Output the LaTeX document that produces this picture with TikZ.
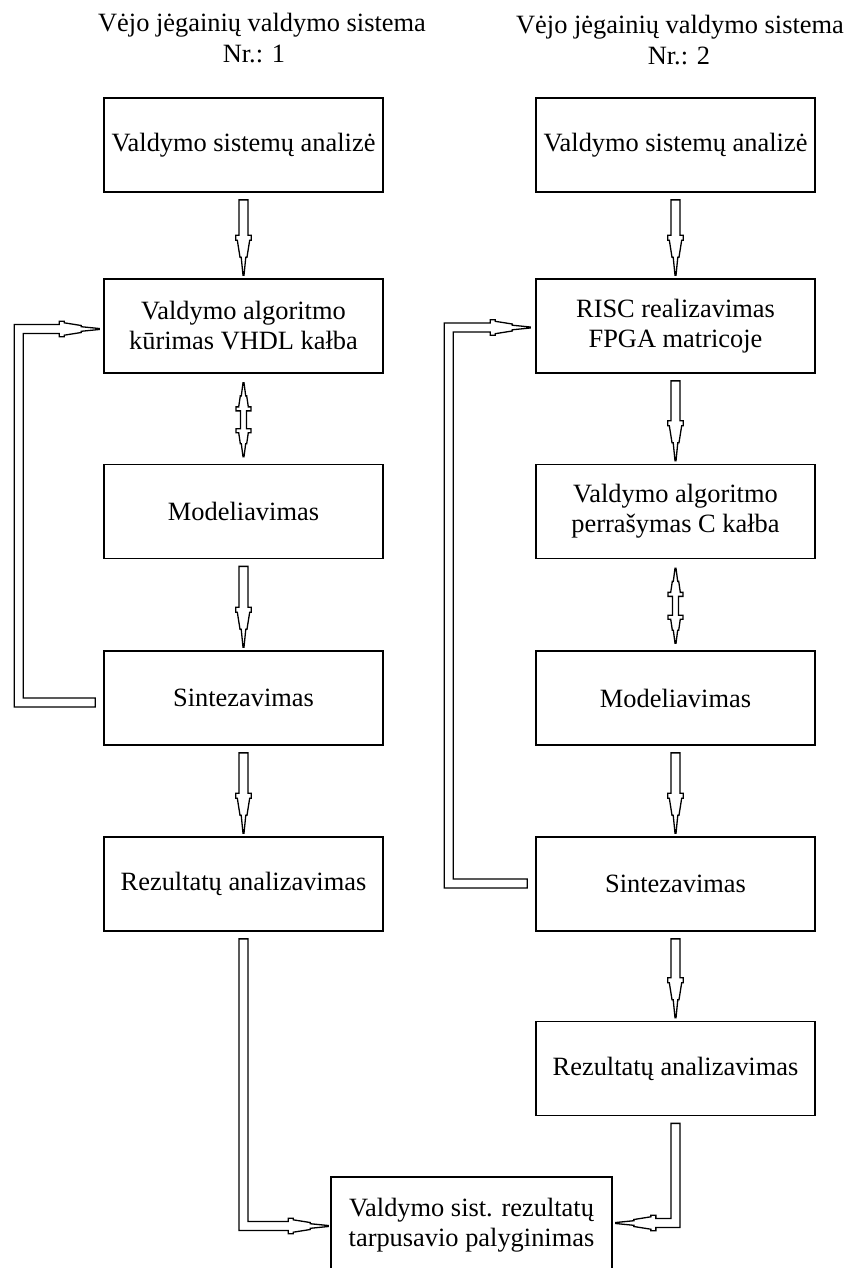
\documentclass[tikz,border=0pt]{standalone}
\usepackage{fontspec}
\setmainfont{Liberation Serif}
\usetikzlibrary{calc}

\tikzset{
  stage/.style={draw, line width=0.85pt, minimum width=139.5pt, minimum height=47pt,
    inner sep=0pt, align=center, font=\fontsize{13.2}{15}\selectfont},
  openstage/.style={stage, draw=none},
  frame/.style={draw, line width=0.85pt},
  heading/.style={anchor=base, inner sep=0pt, font=\fontsize{13.2}{15}\selectfont},
  blockarrow/.style={draw, line width=0.65pt, fill=white, line join=miter},
}

% arrow heads of the hollow block arrows, given by the tip coordinate
\newcommand\headD[1]{-- ($(#1)+(-7.8,-40)$) -- ($(#1)+(-7.8,-35)$) -- ($(#1)+(-6.2,-35)$)
  -- ($(#1)+(-3.5,-18)$) -- ($(#1)+(-2.3,-18)$) -- ($(#1)+(-0.5,0)$) -- ($(#1)+(0.5,0)$)
  -- ($(#1)+(2.3,-18)$) -- ($(#1)+(3.5,-18)$) -- ($(#1)+(6.2,-35)$) -- ($(#1)+(7.8,-35)$)
  -- ($(#1)+(7.8,-40)$) -- ($(#1)+(4.5,-40)$)}
\newcommand\headR[1]{-- ($(#1)+(-40,-4.5)$) -- ($(#1)+(-40,-7.8)$) -- ($(#1)+(-35,-7.8)$)
  -- ($(#1)+(-35,-6.2)$) -- ($(#1)+(-18,-3.5)$) -- ($(#1)+(-18,-2.3)$) -- ($(#1)+(0,-0.5)$)
  -- ($(#1)+(0,0.5)$) -- ($(#1)+(-18,2.3)$) -- ($(#1)+(-18,3.5)$) -- ($(#1)+(-35,6.2)$)
  -- ($(#1)+(-35,7.8)$) -- ($(#1)+(-40,7.8)$) -- ($(#1)+(-40,4.5)$)}
\newcommand\headL[1]{-- ($(#1)+(40,-4.5)$) -- ($(#1)+(40,-7.8)$) -- ($(#1)+(35,-7.8)$)
  -- ($(#1)+(35,-6.2)$) -- ($(#1)+(18,-3.5)$) -- ($(#1)+(18,-2.3)$) -- ($(#1)+(0,-0.5)$)
  -- ($(#1)+(0,0.5)$) -- ($(#1)+(18,2.3)$) -- ($(#1)+(18,3.5)$) -- ($(#1)+(35,6.2)$)
  -- ($(#1)+(35,7.8)$) -- ($(#1)+(40,7.8)$) -- ($(#1)+(40,4.5)$)}

% straight downward block arrow between two stacked boxes
\newcommand\varrow[2]{%
  \coordinate (vtop) at ($(#1.south)+(0,7)$);
  \coordinate (vtip) at ($(#2.north)+(0,-3)$);
  \draw[blockarrow] ($(vtop)+(-4.5,0)$) -- ($(vtip)+(-4.5,-40)$) \headD{vtip}
    -- ($(vtop)+(4.5,0)$) -- cycle;}

% two-headed block arrow between two stacked boxes
\newcommand\dblarrow[2]{%
  \coordinate (da) at ($(#1.south)+(0,9)$);
  \coordinate (db) at ($(#2.north)+(0,-7)$);
  \draw[blockarrow] ($(da)+(-0.5,0)$) -- ($(da)+(-2.2,13)$) -- ($(da)+(-3.2,13)$)
    -- ($(da)+(-4.8,24)$) -- ($(da)+(-7.5,24)$) -- ($(da)+(-7.5,28)$) -- ($(da)+(-3,28)$)
    -- ($(db)+(-3,-28)$) -- ($(db)+(-7.5,-28)$) -- ($(db)+(-7.5,-24)$) -- ($(db)+(-4.8,-24)$)
    -- ($(db)+(-3.2,-13)$) -- ($(db)+(-2.2,-13)$) -- ($(db)+(-0.5,0)$) -- ($(db)+(0.5,0)$)
    -- ($(db)+(2.2,-13)$) -- ($(db)+(3.2,-13)$) -- ($(db)+(4.8,-24)$) -- ($(db)+(7.5,-24)$)
    -- ($(db)+(7.5,-28)$) -- ($(db)+(3,-28)$) -- ($(da)+(3,28)$) -- ($(da)+(7.5,28)$)
    -- ($(da)+(7.5,24)$) -- ($(da)+(4.8,24)$) -- ($(da)+(3.2,13)$) -- ($(da)+(2.2,13)$)
    -- ($(da)+(0.5,0)$) -- cycle;}

\begin{document}
\begin{tikzpicture}[x=0.5pt, y=-0.5pt]
\useasboundingbox (0,0) rectangle (848,1268);

% column headings
\node[heading] (h1a) at (262,32) {Vėjo jėgainių valdymo sistema};
\node[heading] (h1b) at (254,63) {Nr.: 1};
\node[heading] (h2a) at (680,34) {Vėjo jėgainių valdymo sistema};
\node[heading] (h2b) at (679,65) {Nr.: 2};

% system 1
\node[stage] (L1) at (243.5,145)   {Valdymo sistemų analizė};
\node[stage] (L2) at (243.5,326)   {Valdymo algoritmo\\kūrimas VHDL kałba};
\node[stage] (L3) at (243.5,511.5) {Modeliavimas};
\node[stage] (L4) at (243.5,698)   {Sintezavimas};
\node[stage] (L5) at (243.5,884)   {Rezultatų analizavimas};

% system 2
\node[stage] (R1) at (675.5,145)    {Valdymo sistemų analizė};
\node[stage] (R2) at (675.5,326)    {RISC realizavimas\\FPGA matricoje};
\node[stage] (R3) at (675.5,511.5)  {Valdymo algoritmo\\perrašymas C kałba};
\node[stage] (R4) at (675.5,698)    {Modeliavimas};
\node[stage] (R5) at (675.5,884)    {Sintezavimas};
\node[stage] (R6) at (675.5,1068.5) {Rezultatų analizavimas};

% comparison box, running off the lower edge of the page
\node[openstage] (B) at (471.5,1225) {Valdymo sist. rezultatų\\tarpusavio palyginimas};
\draw[frame] ($(B.south west)+(0,30)$) -- (B.north west) -- (B.north east)
  -- ($(B.south east)+(0,30)$);

% flow of system 1
\varrow{L1}{L2}
\dblarrow{L2}{L3}
\varrow{L3}{L4}
\varrow{L4}{L5}

% flow of system 2
\varrow{R1}{R2}
\varrow{R2}{R3}
\dblarrow{R3}{R4}
\varrow{R4}{R5}
\varrow{R5}{R6}

% feedback of system 1
\coordinate (lt) at ($(L2.west)+(-4,3)$);
\coordinate (le) at ($(L4.west)+(-8,4.5)$);
\coordinate (lk) at ($(le)+(-76.5,0)$);
\coordinate (lu) at (lk |- lt);
\draw[blockarrow] ($(le)+(0,4.5)$) -- ($(lk)+(-4.5,4.5)$) -- ($(lu)+(-4.5,-4.5)$) \headR{lt}
  -- ($(lu)+(4.5,4.5)$) -- ($(lk)+(4.5,-4.5)$) -- ($(le)+(0,-4.5)$) -- cycle;

% feedback of system 2
\coordinate (rt) at ($(R2.west)+(-5,1.5)$);
\coordinate (re) at ($(R5.west)+(-8,-0.5)$);
\coordinate (rk) at ($(re)+(-78.5,0)$);
\coordinate (ru) at (rk |- rt);
\draw[blockarrow] ($(re)+(0,4.5)$) -- ($(rk)+(-4.5,4.5)$) -- ($(ru)+(-4.5,-4.5)$) \headR{rt}
  -- ($(ru)+(4.5,4.5)$) -- ($(rk)+(4.5,-4.5)$) -- ($(re)+(0,-4.5)$) -- cycle;

% results into the comparison
\coordinate (bt) at ($(B.west)+(-3,1)$);
\coordinate (bs) at ($(L5.south)+(0,7)$);
\coordinate (bc) at (bs |- bt);
\draw[blockarrow] ($(bs)+(4.5,0)$) -- ($(bc)+(4.5,-4.5)$) \headR{bt}
  -- ($(bc)+(-4.5,4.5)$) -- ($(bs)+(-4.5,0)$) -- cycle;

\coordinate (ct) at ($(B.east)+(4,-2)$);
\coordinate (cs) at ($(R6.south)+(0,7)$);
\coordinate (cc) at (cs |- ct);
\draw[blockarrow] ($(cs)+(-4.5,0)$) -- ($(cc)+(-4.5,-4.5)$) \headL{ct}
  -- ($(cc)+(4.5,4.5)$) -- ($(cs)+(4.5,0)$) -- cycle;
\end{tikzpicture}
\end{document}
